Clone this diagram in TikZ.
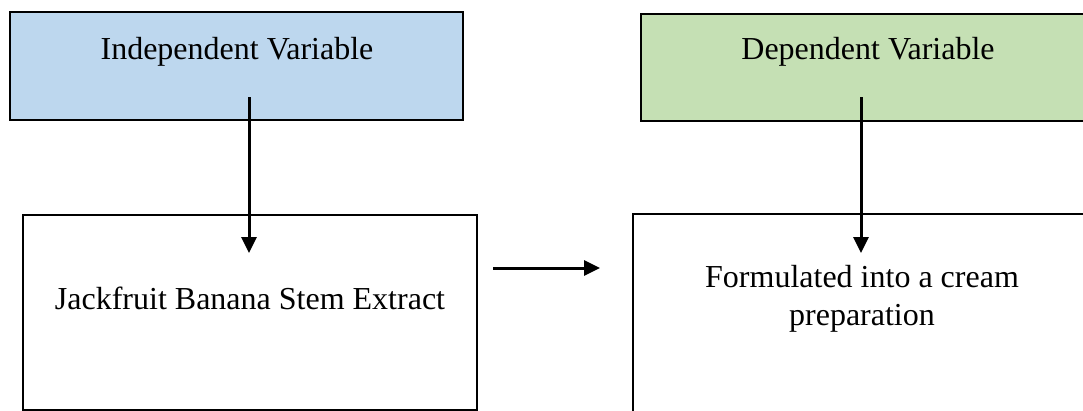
\documentclass[tikz,border=0pt]{standalone}
\usepackage{fontspec}
\setmainfont{Liberation Serif}
\usetikzlibrary{arrows.meta}
\definecolor{ivblue}{HTML}{BDD7EE}
\definecolor{dvgreen}{HTML}{C5E0B4}
\begin{document}
\begin{tikzpicture}[x=1pt,y=-1pt,
  box/.style={draw=black,line width=2pt,rectangle,inner sep=0pt,anchor=north west},
  lbl/.style={inner sep=0pt,font=\fontsize{32}{38}\selectfont,align=center},
  arr/.style={line width=3pt,-{Triangle[length=16pt,width=15pt]}}]
\useasboundingbox (0,0) rectangle (1083,410);
\clip (0,0) rectangle (1083,410);
\node[box,fill=ivblue,minimum width=453pt,minimum height=108pt] (iv) at (9,11) {};
\node[box,fill=dvgreen,minimum width=460pt,minimum height=107pt] (dv) at (640,13) {};
\node[box,fill=white,minimum width=454pt,minimum height=195pt] (jb) at (22,214) {};
\node[box,fill=white,minimum width=460pt,minimum height=220pt] (fc) at (632,213) {};
\node[lbl] (ivt) at (237,52) {Independent Variable};
\node[lbl] (dvt) at (868,52) {Dependent Variable};
\node[lbl] (jbt) at (250,298) {Jackfruit Banana Stem Extract};
\node[lbl] (fct) at (862,299) {Formulated into a cream\\preparation};
\coordinate (a1s) at (249,97);
\coordinate (a1e) at (249,253);
\coordinate (a2s) at (861,97);
\coordinate (a2e) at (861,253);
\coordinate (a3s) at (493,268);
\coordinate (a3e) at (600,268);
\draw[arr] (a1s) -- (a1e);
\draw[arr] (a2s) -- (a2e);
\draw[arr] (a3s) -- (a3e);
\end{tikzpicture}
\end{document}
